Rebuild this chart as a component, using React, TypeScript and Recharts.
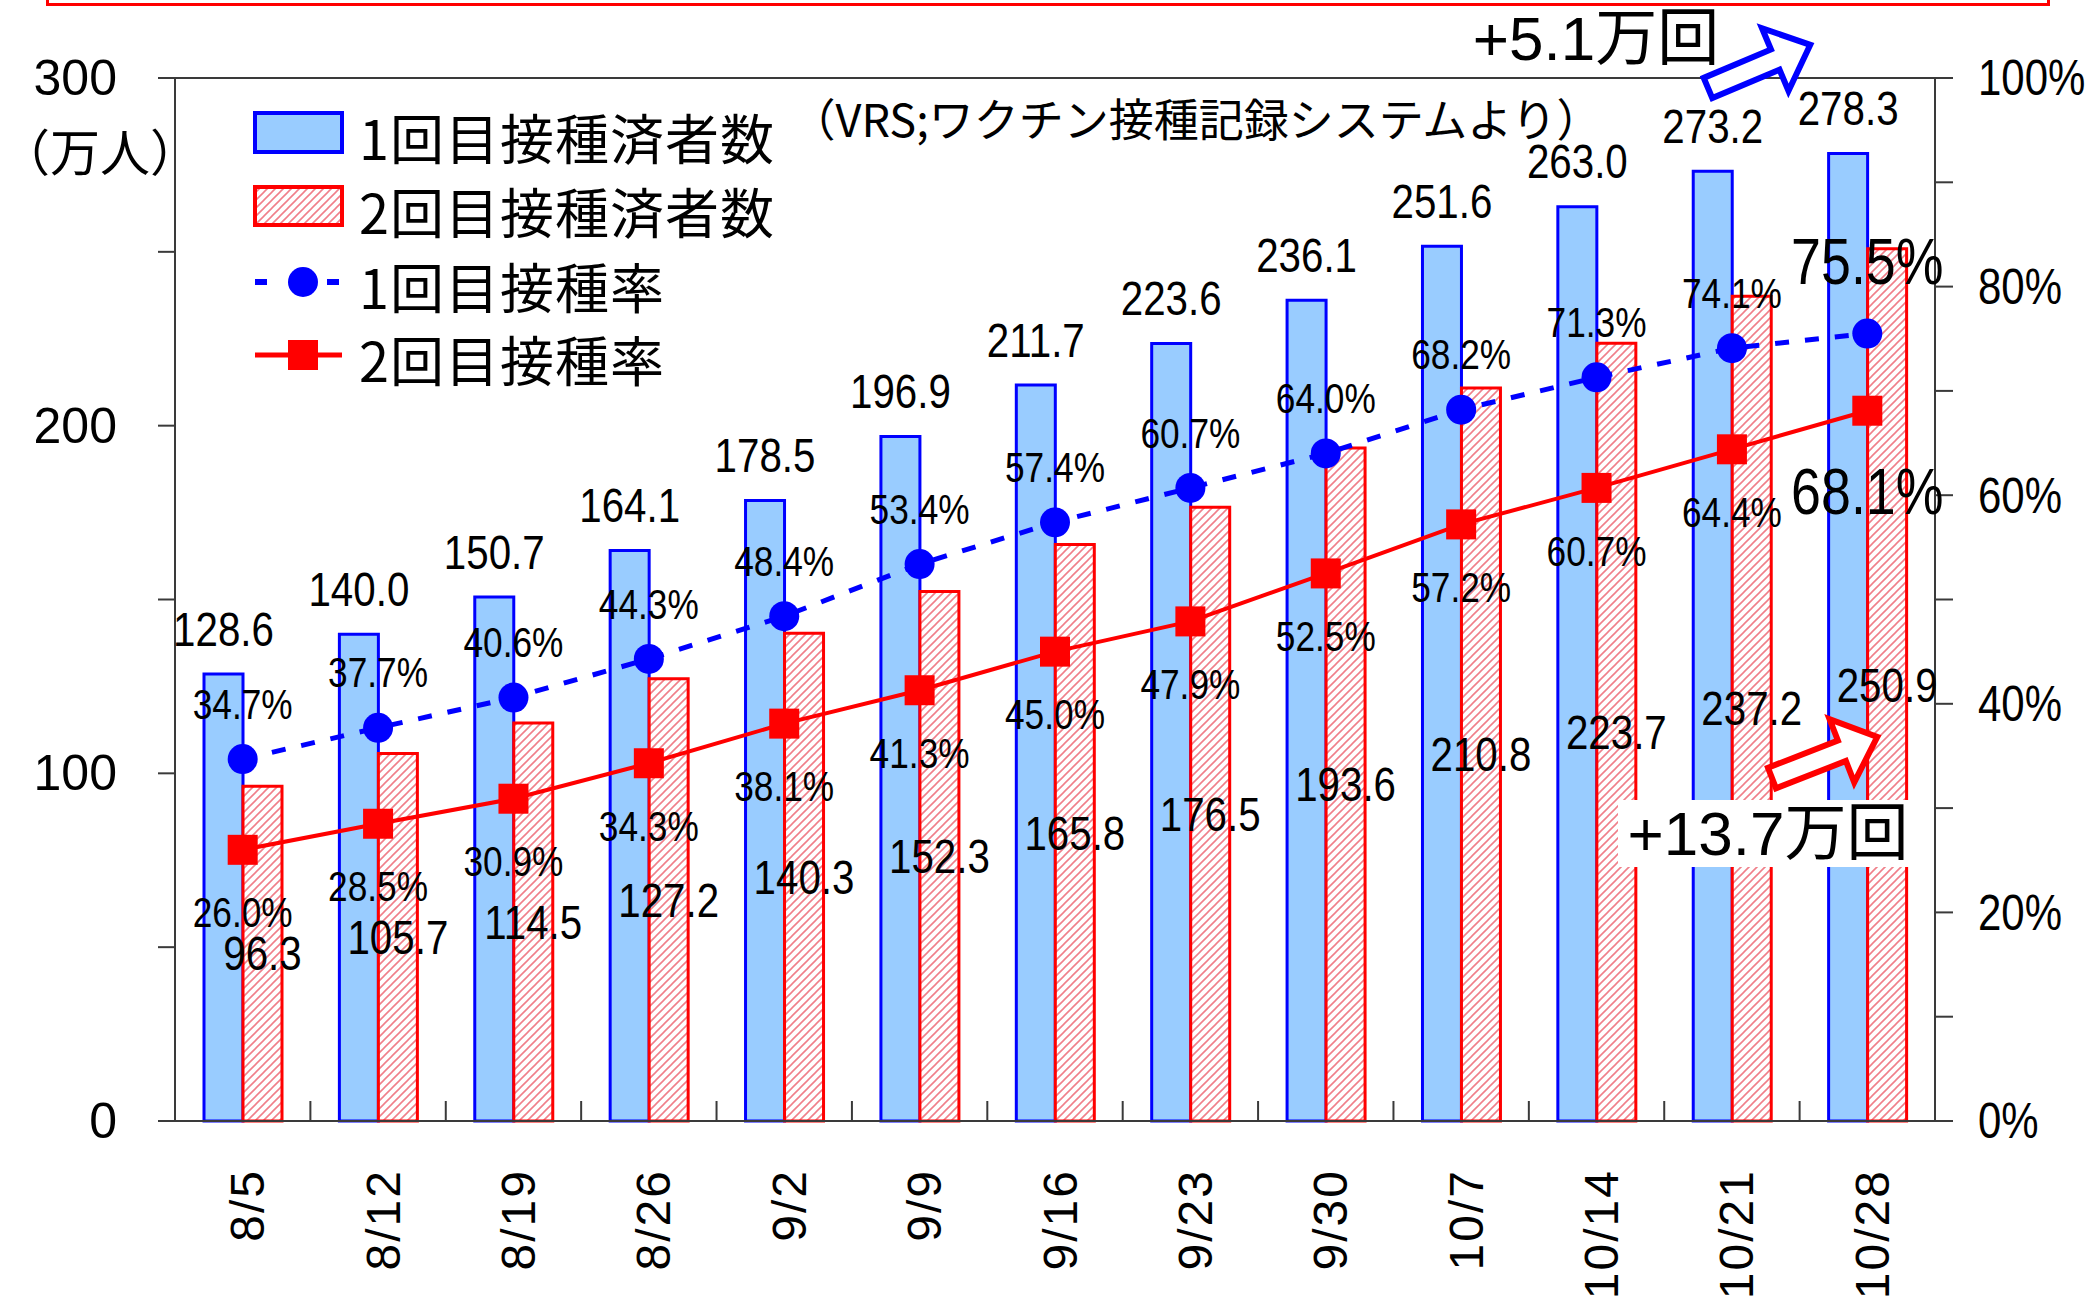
import React from 'react';
import {
  ComposedChart,
  Bar,
  Line,
  XAxis,
  YAxis,
  Legend,
  LabelList,
  ReferenceLine,
} from 'recharts';

const dates = ['8/5', '8/12', '8/19', '8/26', '9/2', '9/9', '9/16', '9/23', '9/30', '10/7', '10/14', '10/21', '10/28'];
const firstDose = [128.6, 140.0, 150.7, 164.1, 178.5, 196.9, 211.7, 223.6, 236.1, 251.6, 263.0, 273.2, 278.3];
const secondDose = [96.3, 105.7, 114.5, 127.2, 140.3, 152.3, 165.8, 176.5, 193.6, 210.8, 223.7, 237.2, 250.9];
const firstRate = [34.7, 37.7, 40.6, 44.3, 48.4, 53.4, 57.4, 60.7, 64.0, 68.2, 71.3, 74.1, 75.5];
const secondRate = [26.0, 28.5, 30.9, 34.3, 38.1, 41.3, 45.0, 47.9, 52.5, 57.2, 60.7, 64.4, 68.1];
const leftTicks = [0, 50, 100, 150, 200, 250, 300];
const rightTicks = [0, 10, 20, 30, 40, 50, 60, 70, 80, 90, 100];
const seriesNames = ['1回目接種済者数', '2回目接種済者数', '1回目接種率', '2回目接種率'];

const data = dates.map((date, i) => ({
  date,
  first: firstDose[i],
  second: secondDose[i],
  rate1: firstRate[i],
  rate2: secondRate[i],
}));

const ARIAL = "'Liberation Sans', Arial, 'Noto Sans CJK JP', sans-serif";
const JP = "'Noto Sans CJK JP', sans-serif";
const AXIS = '#3a3a3a';
const BLUE = '#0000FF';
const RED = '#FF0000';
const LIGHT_BLUE = '#99CCFF';
const LAST = dates.length - 1;

function box(p: any) {
  const vb = p.viewBox || {};
  return {
    x: vb.x ?? p.x,
    y: vb.y ?? p.y,
    width: vb.width ?? p.width ?? 0,
    height: vb.height ?? p.height ?? 0,
  };
}

// condensed gothic-looking numbers: Liberation Sans squeezed horizontally
const NText = ({ x, y, size, anchor = 'middle', children }: any) => (
  <text transform={`translate(${x},${y}) scale(0.84,1)`} textAnchor={anchor} dominantBaseline="central"
    fontFamily={ARIAL} fontSize={size} fill="#000">
    {children}
  </text>
);

const BarTopLabel = (p: any) => {
  const b = box(p);
  return <NText x={b.x + b.width / 2} y={b.y - 45} size={48}>{Number(p.value).toFixed(1)}</NText>;
};

const BarMidLabel = (p: any) => {
  const b = box(p);
  return <NText x={b.x + b.width / 2} y={b.y + b.height / 2} size={48}>{Number(p.value).toFixed(1)}</NText>;
};

const isLast = (p: any, arr: number[]) =>
  p.index !== undefined ? p.index === LAST : Number(p.value) === arr[LAST];

const Rate1Label = (p: any) => {
  const b = box(p);
  const big = isLast(p, firstRate);
  return (
    <NText x={b.x} y={b.y - (big ? 72 : 55)} size={big ? 64 : 42}>
      {Number(p.value).toFixed(1)}%
    </NText>
  );
};

const Rate2Label = (p: any) => {
  const b = box(p);
  const big = isLast(p, secondRate);
  return (
    <NText x={b.x} y={b.y + (big ? 81 : 63)} size={big ? 64 : 42}>
      {Number(p.value).toFixed(1)}%
    </NText>
  );
};

const CircleDot = (p: any) => <circle key={p.key} cx={p.cx} cy={p.cy} r={15} fill={BLUE} />;
const SquareDot = (p: any) => (
  <rect key={p.key} x={p.cx - 15} y={p.cy - 15} width={30} height={30} fill={RED} />
);

const DateTick = (p: any) => {
  const { x, y, payload } = p;
  const half = payload.offset ?? 1760 / 26;
  const tx = x + 5;
  const ty = y + 48;
  return (
    <g>
      <line x1={x + half} x2={x + half} y1={y} y2={y - 20} stroke={AXIS} strokeWidth={2} />
      <text x={tx} y={ty} transform={`rotate(-90 ${tx} ${ty})`} textAnchor="end" dominantBaseline="central"
        fontFamily={ARIAL} fontSize={48} letterSpacing={2} fill="#000">
        {payload.value}
      </text>
    </g>
  );
};

const LeftTick = (p: any) => {
  if (p.payload.value % 100 !== 0) return <g />;
  return (
    <text x={p.x} y={p.y} textAnchor="end" dominantBaseline="central" fontFamily={ARIAL} fontSize={50} fill="#000">
      {p.payload.value}
    </text>
  );
};

const RightTick = (p: any) => {
  if (p.payload.value % 20 !== 0) return <g />;
  return <NText x={p.x} y={p.y} size={50} anchor="start">{p.payload.value}%</NText>;
};

// legend drawn by hand, placed inside the plot at the top left
function LegendBox() {
  const rows = [133, 207, 282, 355];
  return (
    <svg width={560} height={300} style={{ overflow: 'visible' }}>
      <g transform="translate(-250,-100)">
        <rect x={255} y={113} width={87} height={39} fill={LIGHT_BLUE} stroke={BLUE} strokeWidth={4} />
        <rect x={255} y={187} width={87} height={38} fill="url(#hatch)" stroke={RED} strokeWidth={4} />
        <line x1={255} x2={267} y1={rows[2]} y2={rows[2]} stroke={BLUE} strokeWidth={6} />
        <line x1={327} x2={339} y1={rows[2]} y2={rows[2]} stroke={BLUE} strokeWidth={6} />
        <circle cx={303} cy={rows[2]} r={15} fill={BLUE} />
        <line x1={255} x2={342} y1={rows[3]} y2={rows[3]} stroke={RED} strokeWidth={5} />
        <rect x={288} y={rows[3] - 15} width={30} height={30} fill={RED} />
        {seriesNames.map((name, i) => (
          <text key={name} x={359} y={rows[i] + 3} dominantBaseline="central" fontFamily={JP} fontSize={54}
            letterSpacing={1} fill="#000">
            {name}
          </text>
        ))}
      </g>
    </svg>
  );
}

function arrowPoints(tx: number, ty: number, len: number, angle: number) {
  const shaft = 11;
  const head = 34;
  const headLen = 38;
  const pts = [
    [0, -shaft], [len - headLen, -shaft], [len - headLen, -head], [len, 0],
    [len - headLen, head], [len - headLen, shaft], [0, shaft],
  ];
  const a = (angle * Math.PI) / 180;
  return pts
    .map(([px, py]) => `${tx + px * Math.cos(a) - py * Math.sin(a)},${ty + px * Math.sin(a) + py * Math.cos(a)}`)
    .join(' ');
}

export default function App() {
  return (
    <div style={{ position: 'absolute', left: 0, top: 0, width: 2094, height: 1310, background: '#fff', overflow: 'hidden' }}>
      <svg width={0} height={0} style={{ position: 'absolute' }}>
        <defs>
          <pattern id="hatch" patternUnits="userSpaceOnUse" width={8} height={8}>
            <rect width={8} height={8} fill="#fff" />
            <path d="M-2,2 l4,-4 M0,8 l8,-8 M6,10 l4,-4" stroke="#F07F8A" strokeWidth={1.6} />
          </pattern>
        </defs>
      </svg>
      <div style={{ position: 'absolute', left: 46, top: -20, width: 2004, height: 26, border: '3px solid #FF0000', boxSizing: 'border-box' }} />
      <ComposedChart width={2094} height={1310} data={data} barGap={0}
        margin={{ top: 78, right: 0, bottom: 0, left: 0 }}>
        <XAxis dataKey="date" height={189} interval={0} tickSize={0} tickMargin={0} tickLine={false}
          tick={DateTick} stroke={AXIS} strokeWidth={2} />
        <YAxis yAxisId="left" width={175} domain={[0, 300]} ticks={leftTicks} interval={0}
          tickSize={17} tickMargin={41} tick={LeftTick} stroke={AXIS} strokeWidth={2} />
        <YAxis yAxisId="right" orientation="right" width={159} domain={[0, 100]} ticks={rightTicks} interval={0}
          tickSize={18} tickMargin={25} tick={RightTick} stroke={AXIS} strokeWidth={2} />
        <ReferenceLine yAxisId="left" y={300} stroke={AXIS} strokeWidth={2} />
        <Legend layout="vertical" align="center" verticalAlign="middle"
          wrapperStyle={{ left: 250, top: 100, width: 560, height: 300 }} content={() => <LegendBox />} />
        <Bar yAxisId="left" dataKey="first" name={seriesNames[0]} fill={LIGHT_BLUE} stroke={BLUE} strokeWidth={3}
          barSize={39} isAnimationActive={false}>
          <LabelList dataKey="first" content={BarTopLabel} />
        </Bar>
        <Bar yAxisId="left" dataKey="second" name={seriesNames[1]} fill="url(#hatch)" stroke={RED} strokeWidth={3}
          barSize={39} isAnimationActive={false}>
          <LabelList dataKey="second" content={BarMidLabel} />
        </Bar>
        <Line yAxisId="right" type="linear" dataKey="rate1" name={seriesNames[2]} stroke={BLUE} strokeWidth={5}
          strokeDasharray="14 16" dot={CircleDot} activeDot={false} isAnimationActive={false}>
          <LabelList dataKey="rate1" content={Rate1Label} />
        </Line>
        <Line yAxisId="right" type="linear" dataKey="rate2" name={seriesNames[3]} stroke={RED} strokeWidth={4}
          dot={SquareDot} activeDot={false} isAnimationActive={false}>
          <LabelList dataKey="rate2" content={Rate2Label} />
        </Line>
      </ComposedChart>
      <svg width={2094} height={1310} style={{ position: 'absolute', left: 0, top: 0, pointerEvents: 'none' }}>
        <text x={100} y={149} textAnchor="middle" dominantBaseline="central" fontFamily={JP} fontSize={50} fill="#000">
          （万人）
        </text>
        <text x={1196} y={117} textAnchor="middle" dominantBaseline="central" fontFamily={JP} fontSize={45} fill="#000">
          （VRS;ワクチン接種記録システムより）
        </text>
        <text x={1596} y={38} textAnchor="middle" dominantBaseline="central" fontFamily={ARIAL} fontSize={62} fill="#000">
          +5.1万回
        </text>
        <polygon points={arrowPoints(1708, 88, 111, -22.9)} fill="#fff" stroke={BLUE} strokeWidth={6} />
        <polygon points={arrowPoints(1772, 778, 113, -21.3)} fill="#fff" stroke={RED} strokeWidth={6} />
        <rect x={1618} y={800} width={299} height={67} fill="#fff" />
        <text x={1768} y={833} textAnchor="middle" dominantBaseline="central" fontFamily={ARIAL} fontSize={62} fill="#000">
          +13.7万回
        </text>
      </svg>
    </div>
  );
}
